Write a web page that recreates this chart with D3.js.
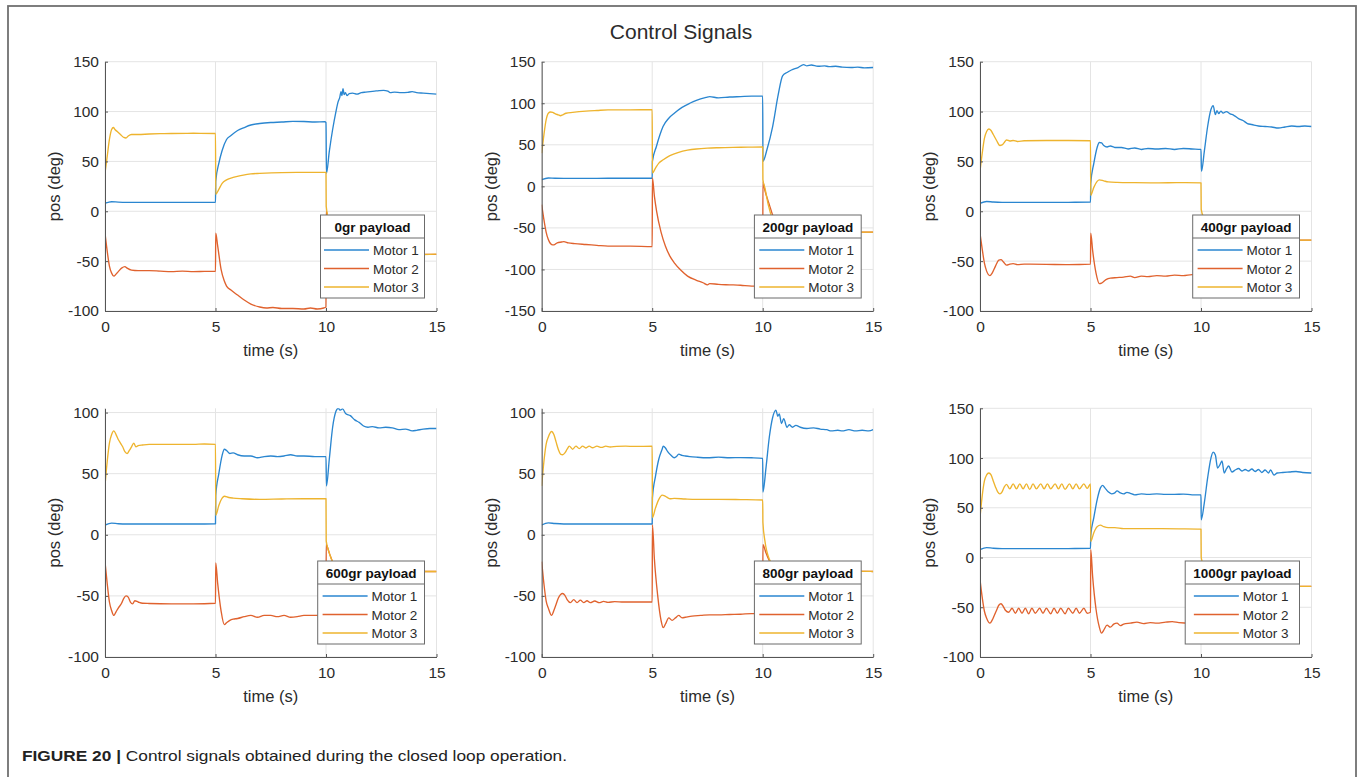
<!DOCTYPE html>
<html><head><meta charset="utf-8">
<script src="https://cdn.jsdelivr.net/npm/d3@7"></script>
<style>
html,body{margin:0;padding:0;background:#fff;}
svg{display:block;font-family:"Liberation Sans",Arial,Helvetica,sans-serif;}
</style></head><body>
<svg id="chart" width="1360" height="777"></svg>
<script>
// ---------------- DATA ----------------
const chartTitle = "Control Signals";
const payloads = ["0gr payload","200gr payload","400gr payload","600gr payload","800gr payload","1000gr payload"];
const motorNames = ["Motor 1","Motor 2","Motor 3"];
const xTicks = [0,5,10,15];
const yTicks = [
  [-100,-50,0,50,100,150],
  [-150,-100,-50,0,50,100,150],
  [-100,-50,0,50,100,150],
  [-100,-50,0,50,100],
  [-100,-50,0,50,100],
  [-100,-50,0,50,100,150]
];
const yDomains = [[-100,150],[-150,150],[-100,150],[-100,103.5],[-100,103.5],[-100,150]];
const xLabel = "time (s)";
const yLabel = "pos (deg)";

// each series: [time (s), position (deg)]
const m1_0gr = [[0,8],[0.15,9],[0.3,9.6],[0.6,9.2],[1,9],[2,9],[3,9],[4,9],[5,9],
 [5.01,30],[5.15,48],[5.3,61],[5.5,72],[5.7,76],[6,81],[6.3,84],[6.6,86.5],[7,88],[7.5,89],[8,89.5],[8.5,90.2],[9,90],[9.5,89.5],[9.95,89.8],
 [10,89],[10.02,38],[10.15,60],[10.3,82],[10.45,100],[10.55,110],[10.62,114],[10.68,120],[10.72,116],[10.77,123],[10.82,117],[10.88,119],[10.95,116],[11.05,118],[11.2,118.5],[11.4,117.5],[11.6,119],[11.8,119.5],[12,120],[12.2,120.5],[12.4,121],[12.6,121.3],[12.8,120.5],[12.9,119],[13.1,119.5],[13.4,119],[13.7,119.2],[13.9,120],[14.1,119],[14.4,118.5],[14.7,118],[15,117.5]];
const m2_0gr = [[0,-22],[0.1,-40],[0.2,-55],[0.3,-62],[0.4,-65],[0.5,-63],[0.6,-60.5],[0.75,-57],[0.9,-55.5],[1,-57],[1.2,-59],[1.5,-59.5],[2,-59.5],[2.5,-60],[3,-60.5],[3.5,-60],[4,-60.5],[4.5,-60.3],[5,-60.2],
 [5.01,-22],[5.1,-35],[5.25,-58],[5.4,-70],[5.5,-75],[5.7,-79],[6,-84],[6.3,-89],[6.6,-93],[7,-96],[7.3,-97],[7.6,-96.5],[8,-97.5],[8.5,-97.5],[9,-98],[9.3,-97],[9.6,-98],[9.9,-97],[10,-96],
 [10.01,0],[10.2,-20],[10.4,-33],[10.7,-39],[11,-41.5],[12,-42.5],[13,-43],[14,-43.3],[15,-43.2]];
const m3_0gr = [[0,38],[0.1,55],[0.2,72],[0.3,82],[0.38,84],[0.45,82],[0.55,80],[0.7,77],[0.85,74],[0.95,73.5],[1.05,75.5],[1.2,77],[1.5,77],[2,77.5],[2.5,77.8],[3,78],[4,78.2],[5,78],
 [5.01,17],[5.15,22],[5.3,28],[5.5,31.5],[5.8,34],[6.2,36],[6.6,37.5],[7,38],[8,38.8],[9,39],[10,39],
 [10.01,5],[10.2,-15],[10.4,-30],[10.7,-38],[11,-41],[12,-42.5],[13,-43],[14,-43.5],[15,-43]];

const m1_200gr = [[0,8],[0.3,10],[0.6,9.7],[1,9.6],[2,9.6],[3,9.7],[4,9.7],[5,9.8],
 [5.01,30],[5.19,48],[5.35,62],[5.49,72],[5.75,82],[6,88],[6.35,95],[6.7,100],[7,103.5],[7.44,107],[7.6,108],[8,106.5],[8.5,107.5],[9,108],[9.5,108.5],[10,108.5],
 [10.01,30],[10.2,45],[10.45,72],[10.7,110],[10.9,133],[11.1,137],[11.3,140],[11.6,143],[11.85,146.5],[12,145],[12.2,146],[12.5,144.5],[12.8,145],[13,144],[13.3,144.5],[13.6,143.5],[14,143],[14.3,143.5],[14.6,142.5],[15,143]];
const m2_200gr = [[0,-22],[0.1,-40],[0.2,-55],[0.3,-64],[0.45,-70],[0.55,-70.5],[0.7,-68],[0.9,-67],[1,-66.5],[1.2,-68],[1.5,-69],[2,-70],[2.5,-71],[3,-72],[4,-72],[5,-72.5],
 [5.01,10],[5.1,-12],[5.2,-30],[5.4,-55],[5.6,-72],[5.8,-84],[6,-92],[6.3,-101],[6.6,-108],[7,-113],[7.3,-116],[7.5,-118.5],[7.6,-117],[8,-118],[8.5,-118.5],[9,-119],[9.5,-120],[10,-120],
 [10.01,5],[10.1,-5],[10.3,-22],[10.5,-38],[10.8,-48],[11.2,-53],[12,-54.5],[13,-55],[15,-55]];
const m3_200gr = [[0,40],[0.1,62],[0.2,80],[0.3,88],[0.4,89.5],[0.5,89],[0.6,87.5],[0.75,86],[0.85,85],[0.95,86],[1.1,88],[1.4,89],[2,90.5],[2.5,91.3],[3,92],[4,92],[5,92.3],
 [5.01,16],[5.15,22],[5.3,28],[5.5,32],[5.8,37],[6.2,41],[6.6,43.5],[7,45],[7.5,46],[8,46.5],[9,47],[10,47.5],
 [10.01,8],[10.1,-2],[10.25,-22],[10.45,-40],[10.7,-50],[11,-53],[12,-54.5],[13,-55],[14,-55],[15,-55]];

const m1_400gr = [[0,8],[0.3,9.8],[0.6,9.3],[1,9],[2,9],[3,9],[4,9],[5,9.2],
 [5.01,28],[5.15,48],[5.3,64],[5.4,69],[5.5,68.5],[5.6,66],[5.75,64.5],[5.9,65.5],[6.1,64],[6.4,64],[6.7,62.5],[7,63.5],[7.3,62],[7.6,63],[8,62.5],[8.4,63],[8.8,62],[9.2,63],[9.6,62.5],[10,62],
 [10.02,40],[10.15,60],[10.3,85],[10.45,102],[10.55,106],[10.65,97],[10.72,101],[10.8,98],[10.9,100.5],[11,98.5],[11.15,100],[11.3,98],[11.5,96],[11.7,93],[11.9,91],[12.1,88],[12.3,87],[12.6,85.5],[12.9,85],[13.2,84.5],[13.5,83.5],[13.8,84.5],[14.1,85.5],[14.4,85],[14.7,85.5],[15,85]];
const m2_400gr = [[0,-22],[0.1,-38],[0.2,-52],[0.3,-60],[0.45,-64.5],[0.55,-62],[0.7,-55],[0.85,-49],[0.95,-48.5],[1.05,-50.5],[1.2,-54],[1.35,-53],[1.5,-52.5],[1.7,-53.5],[2,-53],[3,-53.2],[4,-53.5],[5,-53],
 [5.01,-22],[5.1,-40],[5.25,-62],[5.4,-72.5],[5.5,-72],[5.7,-68.5],[5.9,-67],[6.2,-66.5],[6.5,-66],[6.8,-65],[7,-66.5],[7.3,-65],[7.6,-65.5],[8,-64.5],[8.4,-65],[8.8,-64],[9.2,-64.5],[9.6,-63.5],[10,-64],
 [10.01,-5],[10.15,-12],[10.35,-21],[10.6,-26],[11,-28],[12,-29],[15,-29]];
const m3_400gr = [[0,40],[0.1,58],[0.2,73],[0.3,80],[0.4,82.5],[0.5,81],[0.6,77],[0.75,71],[0.9,66],[1,66.5],[1.1,69],[1.2,71.5],[1.35,70.5],[1.5,71],[1.7,70],[2,70.7],[3,71],[4,71],[5,70.7],
 [5.01,16],[5.15,24],[5.3,30],[5.4,31.5],[5.6,30.5],[5.8,29.5],[6.2,29],[7,28.7],[8,28.5],[9,28.7],[10,28.5],
 [10.01,2],[10.15,-8],[10.35,-20],[10.6,-26],[11,-28],[12,-29],[13,-29],[15,-29]];

const m1_600gr = [[0,8],[0.3,9.6],[0.6,9],[1,8.8],[2,8.8],[3,8.8],[4,8.8],[5,9],
 [5.01,32],[5.15,50],[5.3,65],[5.4,70],[5.5,69],[5.65,66.5],[5.8,67],[6,65.5],[6.3,64.5],[6.6,64.5],[6.9,63],[7.2,64],[7.5,64.5],[7.8,64],[8.1,64.5],[8.4,65.5],[8.7,64.5],[9,64.5],[9.5,64],[10,64],
 [10.02,40],[10.15,62],[10.3,88],[10.45,101],[10.55,103.5],[10.65,102],[10.75,103],[10.9,99],[11.1,97.5],[11.3,94],[11.5,92],[11.7,89],[11.9,88],[12.1,88.5],[12.4,87.5],[12.7,88],[13,87.5],[13.3,86],[13.6,86.5],[13.9,85],[14.1,85.5],[14.4,86.5],[14.7,87],[15,87]];
const m2_600gr = [[0,-22],[0.1,-40],[0.2,-55],[0.3,-62],[0.4,-66],[0.5,-63],[0.6,-60],[0.75,-56],[0.85,-52],[0.95,-50],[1.05,-51],[1.15,-55],[1.25,-56.5],[1.35,-54],[1.5,-55],[1.7,-56],[2,-56.2],[3,-56.5],[4,-56.5],[5,-56],
 [5.01,-23],[5.1,-40],[5.25,-62],[5.4,-73.5],[5.5,-72],[5.65,-70],[5.8,-69],[6,-68.5],[6.3,-67],[6.6,-66],[6.9,-67.5],[7.2,-66],[7.5,-66],[7.8,-67],[8.1,-66],[8.4,-67.5],[8.7,-67],[9,-66],[9.5,-66],[10,-65.5],
 [10.01,-8],[10.15,-15],[10.35,-24],[10.6,-28],[11,-29.5],[12,-30],[15,-30]];
const m3_600gr = [[0,40],[0.1,60],[0.2,75],[0.3,82],[0.4,85],[0.5,82],[0.6,78],[0.7,75],[0.8,72],[0.9,68],[1,66.5],[1.1,69],[1.2,72],[1.3,75],[1.4,72],[1.5,73],[1.7,73.5],[2,74],[3,74],[4,74],[4.5,74.3],[5,74],
 [5.01,16],[5.15,24],[5.3,30],[5.4,31.5],[5.6,30.5],[5.8,30],[6.2,29.5],[7,29],[8,29.3],[9,29.5],[10,29.5],
 [10.01,-5],[10.15,-15],[10.35,-24],[10.6,-28],[11,-29.5],[12,-30],[15,-30]];

const m1_800gr = [[0,8],[0.3,9.8],[0.6,9.2],[1,8.8],[2,8.8],[3,8.8],[4,8.8],[5,8.8],
 [5.01,30],[5.15,48],[5.3,62],[5.45,70],[5.5,72.5],[5.6,71],[5.7,68],[5.85,65],[6,63],[6.1,64],[6.2,66],[6.35,65],[6.5,64.5],[6.7,64],[7,63.5],[7.5,63],[8,63.5],[8.5,63],[9,63.2],[9.5,63],[10,62.5],
 [10.01,35],[10.15,55],[10.3,80],[10.45,96],[10.6,102],[10.68,97],[10.75,99],[10.85,91],[10.95,95],[11.1,88],[11.2,90],[11.35,88],[11.5,89.5],[11.7,88],[12,87],[12.3,87.5],[12.6,86.5],[12.9,86],[13.1,85],[13.4,85.5],[13.6,85],[13.9,86],[14.2,85],[14.5,85.5],[14.8,85],[15,86]];
const m2_800gr = [[0,-22],[0.1,-40],[0.2,-54],[0.3,-60],[0.45,-66],[0.55,-62],[0.65,-57],[0.75,-52],[0.85,-49],[0.95,-48],[1.05,-49.5],[1.15,-53],[1.3,-55.5],[1.45,-53],[1.6,-55.5],[1.75,-53.5],[1.9,-55.5],[2.05,-54],[2.2,-55.5],[2.4,-54.2],[2.6,-55.5],[2.8,-54.5],[3,-55.3],[3.3,-54.7],[3.7,-55],[4.2,-55],[5,-55],
 [5.01,8],[5.1,-20],[5.25,-50],[5.4,-70],[5.5,-76],[5.6,-73],[5.75,-68],[5.9,-70],[6.05,-68],[6.2,-66],[6.35,-68],[6.5,-67.5],[6.8,-66.5],[7.2,-66],[7.6,-65.5],[8,-65.5],[8.5,-65.2],[9,-65],[9.5,-64.5],[10,-64.5],
 [10.01,-8],[10.15,-15],[10.35,-23],[10.6,-27],[11,-29],[12,-29.5],[15,-30]];
const m3_800gr = [[0,40],[0.1,60],[0.2,74],[0.3,80],[0.45,84.5],[0.55,82],[0.65,76],[0.75,70],[0.85,66],[0.95,65.5],[1.05,67],[1.15,70],[1.25,72.5],[1.4,70],[1.55,72.5],[1.7,70.5],[1.85,72.5],[2,71],[2.15,72.5],[2.3,71.2],[2.5,72.5],[2.7,71.5],[2.9,72.5],[3.1,71.8],[3.4,72.4],[3.8,72.5],[4.2,72.3],[5,72.5],
 [5.01,14],[5.15,22],[5.3,29],[5.45,32.5],[5.6,31.5],[5.8,29.5],[6,29.8],[6.5,29.3],[7,29],[8,29],[9,28.8],[10,28.5],
 [10.01,10],[10.1,-5],[10.3,-20],[10.55,-26],[11,-28.5],[12,-29.5],[15,-30]];

const m1_1000gr = [[0,8],[0.3,10],[0.6,9.3],[1,9],[2,9],[3,9],[4,9],[5,9.2],
 [5.01,22],[5.15,40],[5.3,58],[5.45,70],[5.55,72.5],[5.65,70],[5.8,66],[5.95,64],[6.1,65],[6.2,67],[6.35,65],[6.5,64],[6.65,65.5],[6.8,64.5],[7,63],[7.3,64],[7.6,63.5],[8,64],[8.4,63.5],[8.8,63.5],[9.2,63.8],[9.6,63],[10,63],
 [10.01,38],[10.15,55],[10.3,80],[10.45,100],[10.55,106],[10.65,103],[10.75,90],[10.85,93],[10.95,97],[11.05,85],[11.15,89],[11.25,92],[11.4,86],[11.55,88],[11.7,89.5],[11.85,87],[12,88.5],[12.15,87],[12.3,89],[12.45,86.5],[12.6,88.5],[12.75,85.5],[12.9,88],[13.05,85],[13.15,88],[13.3,83],[13.45,85],[13.7,85.5],[14,86],[14.3,86.5],[14.6,85.5],[15,85]];
const m2_1000gr = [[0,-22],[0.1,-40],[0.2,-54],[0.3,-61],[0.45,-66],[0.55,-63],[0.65,-58],[0.75,-53],[0.85,-48],[0.95,-46.5],[1.05,-49],[1.15,-53],[1.3,-55],[1.45,-51],[1.6,-56],[1.75,-51],[1.9,-56],[2.05,-51],[2.2,-56.5],[2.35,-51],[2.5,-56],[2.7,-51],[2.85,-56],[3,-51],[3.2,-56.5],[3.35,-51],[3.5,-56],[3.65,-51],[3.85,-56.5],[4,-51],[4.2,-56],[4.35,-51],[4.5,-56],[4.7,-51],[4.85,-56],[5,-55],
 [5.01,8],[5.1,-20],[5.25,-52],[5.4,-70],[5.5,-76],[5.6,-73],[5.75,-68],[5.9,-70],[6.05,-67],[6.2,-66],[6.35,-68.5],[6.5,-67],[6.8,-66],[7.1,-65],[7.4,-66.5],[7.7,-65.5],[8,-66],[8.4,-65],[8.7,-64.5],[9,-65.5],[9.5,-66],[10,-66],
 [10.01,-5],[10.15,-13],[10.35,-22],[10.6,-26],[11,-28],[12,-29],[15,-29]];
const m3_1000gr = [[0,40],[0.1,62],[0.2,77],[0.3,83],[0.4,85],[0.5,83],[0.6,77],[0.7,71],[0.8,66],[0.9,64],[1,66],[1.1,71],[1.2,73.5],[1.35,69],[1.5,74],[1.65,69],[1.8,74],[1.95,69],[2.1,74],[2.25,68.5],[2.4,74],[2.55,69],[2.75,74],[2.9,69],[3.05,74],[3.2,69],[3.4,74],[3.55,69],[3.7,74],[3.85,68.5],[4.05,74],[4.2,69],[4.35,74],[4.5,69],[4.7,74],[4.85,69.5],[5,74],
 [5.01,16],[5.15,25],[5.3,31],[5.45,32.5],[5.6,31],[5.8,30],[6.1,30],[6.5,29],[7,29],[8,29],[9,28.8],[10,28.5],
 [10.01,0],[10.15,-10],[10.35,-21],[10.6,-26],[11,-28],[12,-29],[15,-29]];

const seriesByPanel = [
  [m1_0gr, m2_0gr, m3_0gr],
  [m1_200gr, m2_200gr, m3_200gr],
  [m1_400gr, m2_400gr, m3_400gr],
  [m1_600gr, m2_600gr, m3_600gr],
  [m1_800gr, m2_800gr, m3_800gr],
  [m1_1000gr, m2_1000gr, m3_1000gr]
];
const captionBold = "FIGURE 20 |";
const captionText = " Control signals obtained during the closed loop operation.";

// ---------------- STYLE / LAYOUT ----------------
const colors = ["#2a86d0", "#e0622e", "#eeb42e"];
const colLeft = [105, 541.7, 980];
const plotW = 331.5;
const rows = [[61.7, 311], [408.3, 657]];
const axisColor = "#555";
const textColor = "#2b2b2b";
const gridColor = "#e4e4e4";

const svg = d3.select("#chart");
svg.append("rect").attr("width",1360).attr("height",777).attr("fill","#fff");
svg.append("rect").attr("x",8).attr("y",6).attr("width",1348).attr("height",800)
  .attr("fill","none").attr("stroke","#707070").attr("stroke-width",1.8);

svg.append("text").attr("x",681).attr("y",38.5).attr("text-anchor","middle")
  .attr("font-size",21).attr("fill",textColor).text(chartTitle);

const defs = svg.append("defs");

seriesByPanel.forEach((series, i) => {
  const col = i % 3, row = Math.floor(i / 3);
  const left = colLeft[col], right = left + plotW;
  const top = rows[row][0], bottom = rows[row][1];
  const x = d3.scaleLinear().domain([0, 15]).range([left, right]);
  const y = d3.scaleLinear().domain(yDomains[i]).range([bottom, top]);
  const g = svg.append("g");

  // grid
  g.append("g").selectAll("line").data(xTicks).join("line")
    .attr("x1", d => x(d)).attr("x2", d => x(d)).attr("y1", top).attr("y2", bottom)
    .attr("stroke", gridColor).attr("stroke-width", 1);
  g.append("g").selectAll("line").data(yTicks[i]).join("line")
    .attr("x1", left).attr("x2", right).attr("y1", d => y(d)).attr("y2", d => y(d))
    .attr("stroke", gridColor).attr("stroke-width", 1);

  // clip
  const cid = "clip" + i;
  defs.append("clipPath").attr("id", cid).append("rect")
    .attr("x", left).attr("y", top).attr("width", plotW).attr("height", bottom - top);

  const line = d3.line().curve(d3.curveMonotoneX).x(d => x(d[0])).y(d => y(d[1]));
  const lg = g.append("g").attr("clip-path", `url(#${cid})`);
  series.forEach((s, k) => {
    lg.append("path").datum(s).attr("d", line).attr("fill", "none")
      .attr("stroke", colors[k]).attr("stroke-width", 1.35).attr("stroke-linejoin", "round");
  });

  // axes
  const ax = g.append("g").attr("transform", `translate(0,${bottom})`)
    .call(d3.axisBottom(x).tickValues(xTicks).tickSizeInner(-3).tickSizeOuter(0).tickPadding(10).tickFormat(d3.format("d")));
  const ay = g.append("g").attr("transform", `translate(${left},0)`)
    .call(d3.axisLeft(y).tickValues(yTicks[i]).tickSizeInner(-3).tickSizeOuter(0).tickPadding(6).tickFormat(d3.format("d")));
  [ax, ay].forEach(a => {
    a.select(".domain").attr("stroke", axisColor).attr("stroke-width", 1);
    a.selectAll(".tick line").attr("stroke", axisColor);
    a.selectAll(".tick text").attr("fill", textColor).attr("font-size", 15.5)
      .attr("font-family", '"Liberation Sans", Arial, sans-serif');
  });
  ay.selectAll(".tick text").text(d => d < 0 ? "-" + Math.abs(d) : d);

  // axis labels
  g.append("text").attr("x", (left + right) / 2).attr("y", bottom + 44.5)
    .attr("text-anchor", "middle").attr("font-size", 16.5).attr("fill", textColor).text(xLabel);
  g.append("text").attr("transform", `translate(${left - 45},${(top + bottom) / 2}) rotate(-90)`)
    .attr("text-anchor", "middle").attr("font-size", 16.5).attr("fill", textColor).text(yLabel);

  // legend
  const leg = g.append("g");
  const ttl = leg.append("text").attr("font-size", 13.5).attr("font-weight", "bold")
    .attr("fill", "#111").attr("text-anchor", "middle").text(payloads[i]);
  const tw = ttl.node().getComputedTextLength();
  const lw = Math.max(104, tw + 16);
  const lx = right - 12 - lw, ly = bottom - 96, lh = 83;
  leg.insert("rect", "text").attr("x", lx).attr("y", ly).attr("width", lw).attr("height", lh)
    .attr("fill", "#fff").attr("stroke", "#6b6b6b").attr("stroke-width", 1);
  leg.append("line").attr("x1", lx).attr("x2", lx + lw).attr("y1", ly + 23).attr("y2", ly + 23)
    .attr("stroke", "#6b6b6b").attr("stroke-width", 1);
  ttl.attr("x", lx + lw / 2).attr("y", ly + 16.5);
  const pad = (lw - 97) / 2;
  motorNames.forEach((m, k) => {
    const yy = ly + 35 + k * 18.5;
    leg.append("line").attr("x1", lx + pad).attr("x2", lx + pad + 45).attr("y1", yy).attr("y2", yy)
      .attr("stroke", colors[k]).attr("stroke-width", 1.35);
    leg.append("text").attr("x", lx + pad + 49).attr("y", yy + 5).attr("font-size", 13.5)
      .attr("fill", textColor).text(m);
  });
});

// caption
const cap = svg.append("text").attr("x", 22).attr("y", 761).attr("font-size", 14.5).attr("fill", "#222")
  .attr("textLength", 545).attr("lengthAdjust", "spacingAndGlyphs");
cap.append("tspan").attr("font-weight", "bold").text(captionBold);
cap.append("tspan").text(captionText);
</script>
</body></html>
